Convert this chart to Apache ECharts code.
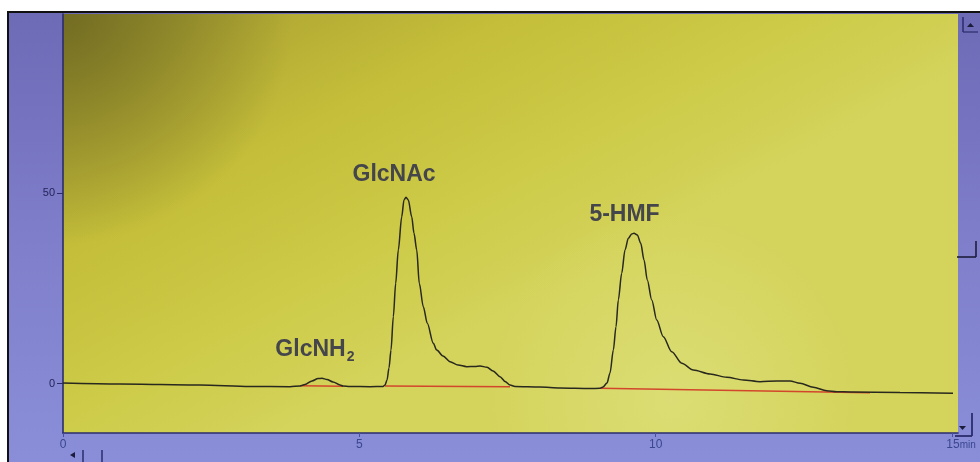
<!DOCTYPE html>
<html>
<head>
<meta charset="utf-8">
<title>HPLC chromatogram</title>
<script src="https://cdn.jsdelivr.net/npm/echarts@6/dist/echarts.min.js"></script>
<style>
  html, body { margin: 0; padding: 0; background: #ffffff; }
  #chart { width: 980px; height: 462px; }
</style>
</head>
<body>
<div id="chart"></div>
<script>
// Retention time (min) of each sampled point of the detector trace
const retentionTime = [
  0.000, 0.962, 2.311, 3.155, 3.830, 3.999, 4.083, 4.201, 4.303, 4.370,
  4.454, 4.556, 4.674, 4.724, 4.842, 5.180, 5.399, 5.433, 5.467, 5.500,
  5.534, 5.573, 5.613, 5.657, 5.715, 5.753, 5.787, 5.826, 5.883, 5.922,
  5.968, 6.011, 6.079, 6.146, 6.248, 6.305, 6.411, 6.530, 6.664, 6.811,
  6.951, 7.036, 7.154, 7.255, 7.373, 7.458, 7.542, 7.626, 8.048, 8.385,
  8.892, 9.060, 9.111, 9.178, 9.229, 9.285, 9.330, 9.369, 9.426, 9.482,
  9.538, 9.595, 9.634, 9.690, 9.747, 9.803, 9.858, 9.933, 10.017, 10.128,
  10.270, 10.439, 10.634, 10.916, 11.198, 11.478, 11.760, 12.042, 12.266, 12.435,
  12.659, 12.885, 13.054, 13.279, 14.122, 15.016
];

// Detector response (mV) at each retention time
const detectorSignal = [
  0.13, -0.13, -0.39, -0.79, -0.84, -0.66, -0.26, 0.66, 1.31, 1.37,
  1.05, 0.39, -0.39, -0.66, -0.79, -0.84, -0.79, -0.39, 0.92, 4.07,
  8.79, 17.54, 26.31, 35.05, 43.79, 48.17, 48.88, 48.17, 43.79, 39.43,
  35.05, 26.31, 20.16, 15.80, 10.55, 8.79, 7.22, 5.72, 4.86, 4.41,
  4.46, 4.59, 4.25, 3.28, 1.79, 0.53, -0.39, -0.79, -0.92, -1.18,
  -1.31, -1.26, -0.92, 0.13, 2.76, 8.79, 14.91, 21.92, 28.93, 35.05,
  38.12, 39.25, 39.43, 38.99, 36.81, 32.42, 27.17, 21.92, 16.67, 12.29,
  8.35, 5.30, 3.54, 2.49, 1.63, 0.92, 0.47, 0.66, 0.66, 0.05,
  -1.00, -1.89, -2.15, -2.23, -2.36, -2.57
];

// Integration baselines: start / end time and level of each peak
const baseTimeGlcNH2 = [3.999, 4.724];
const baseLevelGlcNH2 = [-0.60, -0.71];
const baseTimeGlcNAc = [5.433, 7.542];
const baseLevelGlcNAc = [-0.66, -0.84];
const baseTimeHMF = [9.060, 13.616];
const baseLevelHMF = [-1.26, -2.42];

// Axis ticks
const timeTicks = [0, 5, 10, 15];
const signalTicks = [0, 50];

// Peak names
const peakNames = ['GlcNH', 'GlcNAc', '5-HMF'];

const pairs = (xs, ys) => xs.map((x, i) => [x, ys[i]]);

const chart = echarts.init(document.getElementById('chart'), null, { renderer: 'canvas' });

const navy = '#2a2c6c';
const labelFont = 'Liberation Sans';

const peakLabel = {
  fontFamily: labelFont,
  fontWeight: 'bold',
  fontSize: 23,
  color: '#45454c'
};

const option = {
  animation: false,
  backgroundColor: '#ffffff',
  grid: { left: 63, top: 14, width: 895, height: 419, containLabel: false },
  xAxis: {
    type: 'value',
    min: 0,
    max: 15.1,
    axisLine: { show: true, onZero: false, lineStyle: { color: navy, width: 1.6 } },
    axisTick: { show: true, length: 4, customValues: timeTicks, lineStyle: { color: '#4450a0', width: 1 } },
    axisLabel: {
      customValues: timeTicks,
      margin: 6,
      color: '#3a4690',
      fontFamily: labelFont,
      fontSize: 12,
      formatter: v => (v === 15 ? '{n|15}{u|min}' : String(v)),
      rich: {
        n: { fontFamily: labelFont, fontSize: 12, color: '#3a4690', padding: [0, 0, 0, 18] },
        u: { fontFamily: labelFont, fontSize: 10, color: '#3a4690' }
      }
    },
    splitLine: { show: false }
  },
  yAxis: {
    type: 'value',
    min: -13,
    max: 97,
    axisLine: { show: true, onZero: false, lineStyle: { color: navy, width: 1.6 } },
    axisTick: { show: true, length: 6, customValues: signalTicks, lineStyle: { color: navy, width: 1 } },
    axisLabel: {
      customValues: signalTicks,
      margin: 8,
      color: '#24245a',
      fontFamily: labelFont,
      fontSize: 11
    },
    splitLine: { show: false }
  },
  graphic: [
    // instrument window panels
    {
      type: 'rect', z: -20, silent: true,
      shape: { x: 9, y: 13, width: 971, height: 449 },
      style: {
        fill: new echarts.graphic.LinearGradient(0, 0, 0, 1, [
          { offset: 0, color: '#6d6ab6' },
          { offset: 0.5, color: '#7f7eca' },
          { offset: 1, color: '#8a8ed8' }
        ])
      }
    },
    {
      type: 'rect', z: -19, silent: true,
      shape: { x: 63, y: 14, width: 895, height: 419 },
      style: {
        fill: new echarts.graphic.LinearGradient(0, 0, 0.25, 1, [
          { offset: 0, color: '#9c9530' },
          { offset: 0.22, color: '#b3ab34' },
          { offset: 0.45, color: '#c4be3a' },
          { offset: 0.75, color: '#cdcb48' },
          { offset: 1, color: '#d4d35c' }
        ])
      }
    },
    {
      type: 'rect', z: -18, silent: true,
      shape: { x: 63, y: 14, width: 895, height: 419 },
      style: {
        fill: new echarts.graphic.RadialGradient(0, 0, 0.55, [
          { offset: 0, color: 'rgba(100,94,30,0.75)' },
          { offset: 1, color: 'rgba(100,94,30,0)' }
        ])
      }
    },
    {
      type: 'rect', z: -17, silent: true,
      shape: { x: 63, y: 14, width: 895, height: 419 },
      style: {
        fill: new echarts.graphic.RadialGradient(0.68, 0.92, 0.45, [
          { offset: 0, color: 'rgba(226,232,140,0.5)' },
          { offset: 1, color: 'rgba(226,232,140,0)' }
        ])
      }
    },
    // outer frame
    { type: 'line', z: 20, silent: true, shape: { x1: 7, y1: 12, x2: 980, y2: 12 }, style: { stroke: '#111111', lineWidth: 2 } },
    { type: 'line', z: 20, silent: true, shape: { x1: 8, y1: 11, x2: 8, y2: 462 }, style: { stroke: '#111111', lineWidth: 2 } },
    // scroll bar: up arrow box
    { type: 'line', z: 20, silent: true, shape: { x1: 963, y1: 17, x2: 963, y2: 32 }, style: { stroke: navy, lineWidth: 1.5 } },
    { type: 'line', z: 20, silent: true, shape: { x1: 963, y1: 32, x2: 978, y2: 32 }, style: { stroke: navy, lineWidth: 1.2 } },
    { type: 'polygon', z: 20, silent: true, shape: { points: [[967, 27], [974, 27], [970.5, 23]] }, style: { fill: '#1c1c3c' } },
    // scroll bar: position marker
    { type: 'line', z: 20, silent: true, shape: { x1: 957, y1: 257, x2: 976, y2: 257 }, style: { stroke: '#1c1c3c', lineWidth: 1.6 } },
    { type: 'line', z: 20, silent: true, shape: { x1: 976, y1: 241, x2: 976, y2: 257 }, style: { stroke: '#1c1c3c', lineWidth: 1.6 } },
    // scroll bar: down arrow and corner
    { type: 'polygon', z: 20, silent: true, shape: { points: [[959, 426], [966, 426], [962.5, 430]] }, style: { fill: '#1c1c3c' } },
    { type: 'line', z: 20, silent: true, shape: { x1: 972, y1: 413, x2: 972, y2: 436 }, style: { stroke: navy, lineWidth: 1.8 } },
    { type: 'line', z: 20, silent: true, shape: { x1: 955, y1: 436, x2: 972, y2: 436 }, style: { stroke: navy, lineWidth: 1.8 } },
    // horizontal scroll controls
    { type: 'polygon', z: 20, silent: true, shape: { points: [[70, 455], [75, 452], [75, 458]] }, style: { fill: '#1c1c3c' } },
    { type: 'line', z: 20, silent: true, shape: { x1: 83, y1: 450, x2: 83, y2: 462 }, style: { stroke: navy, lineWidth: 1.5 } },
    { type: 'line', z: 20, silent: true, shape: { x1: 102, y1: 450, x2: 102, y2: 462 }, style: { stroke: navy, lineWidth: 1.5 } }
  ],
  series: [
    {
      name: 'Detector signal',
      type: 'line',
      data: pairs(retentionTime, detectorSignal),
      showSymbol: false,
      smooth: 0.3,
      smoothMonotone: 'x',
      z: 5,
      lineStyle: { color: '#28281e', width: 1.5 },
      markPoint: {
        symbol: 'circle',
        symbolSize: 1,
        itemStyle: { color: 'rgba(0,0,0,0)' },
        label: { show: true, position: 'inside' },
        data: [
          {
            coord: [4.25, 8.9],
            value: peakNames[0],
            label: {
              formatter: '{m|' + peakNames[0] + '}{s|2}',
              rich: {
                m: Object.assign({}, peakLabel, { lineHeight: 30 }),
                s: Object.assign({}, peakLabel, { fontSize: 14, lineHeight: 14, padding: [16, 0, 0, 1] })
              }
            }
          },
          { coord: [5.585, 54.7], value: peakNames[1], label: Object.assign({ formatter: peakNames[1] }, peakLabel) },
          { coord: [9.474, 44.2], value: peakNames[2], label: Object.assign({ formatter: peakNames[2] }, peakLabel) }
        ]
      }
    },
    {
      name: 'Baseline GlcNH2',
      type: 'line',
      data: pairs(baseTimeGlcNH2, baseLevelGlcNH2),
      showSymbol: false, z: 4,
      lineStyle: { color: '#d2462c', width: 1.6 }
    },
    {
      name: 'Baseline GlcNAc',
      type: 'line',
      data: pairs(baseTimeGlcNAc, baseLevelGlcNAc),
      showSymbol: false, z: 4,
      lineStyle: { color: '#d2462c', width: 1.6 }
    },
    {
      name: 'Baseline 5-HMF',
      type: 'line',
      data: pairs(baseTimeHMF, baseLevelHMF),
      showSymbol: false, z: 4,
      lineStyle: { color: '#d2462c', width: 1.6 }
    }
  ]
};

chart.setOption(option);
</script>
</body>
</html>
